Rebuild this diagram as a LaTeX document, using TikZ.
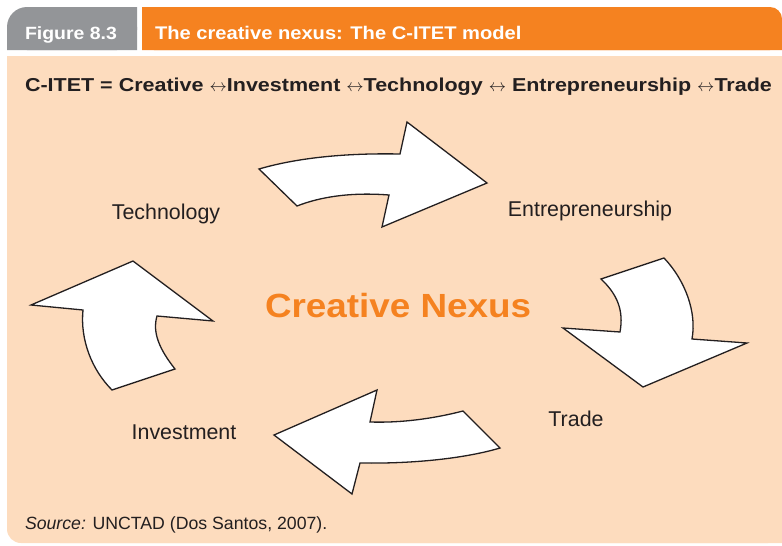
\documentclass[tikz,border=0pt]{standalone}
\usepackage{fontspec}
\setmainfont{Liberation Sans}
\newfontfamily\widefont[FakeStretch=1.1]{Liberation Sans}
\newfontfamily\formulafont[FakeStretch=1.15]{Liberation Sans}

\definecolor{figgray}{HTML}{939598}
\definecolor{figorange}{HTML}{F58220}
\definecolor{figpeach}{HTML}{FDDCBE}
\definecolor{figtext}{HTML}{231F20}

\newcommand{\lrarr}{$\leftrightarrow$}

\tikzset{
  tab text/.style={anchor=base west, outer sep=0, inner sep=0, text=white, font=\widefont\bfseries\fontsize{17.7}{20}\selectfont},
  cycle label/.style={anchor=base, outer sep=0, inner sep=0, text=figtext, font=\fontsize{21.4}{24}\selectfont},
  block arrow/.style={draw=figtext, fill=white, line width=1.3pt, line join=miter},
}

\begin{document}
\begin{tikzpicture}[x=1pt, y=-1pt]
      \useasboundingbox (0,0) rectangle (782,546);

      % header tabs and body
      \fill[figgray, rounded corners=20] (7,7) rectangle (137,50);
      \fill[figgray] (60,7) rectangle (137,50) (7,30) rectangle (137,50);
      \fill[figorange, rounded corners=12] (142,7) rectangle (782,50);
      \fill[figorange] (142,7) rectangle (720,50) (142,30) rectangle (782,50);
      \fill[figpeach, rounded corners=14] (7,56) rectangle (782,543);
      \fill[figpeach] (7,56) rectangle (782,100) (60,56) rectangle (782,543);

      \node[tab text] (fig-no) at (25,39.3) {Figure 8.3};
      \node[tab text, font=\widefont\bfseries\fontsize{18.3}{20}\selectfont] (fig-title) at (155,39.3) {The creative nexus: The C-ITET model};

      \node[anchor=base west, outer sep=0, inner sep=0, text=figtext, font=\formulafont\bfseries\fontsize{18.7}{22}\selectfont] (formula) at (25,91.7) {C-ITET = Creative \lrarr Investment \lrarr Technology \lrarr{} Entrepreneurship \lrarr Trade};

      % the four curved arrows
      \draw[block arrow] (259,169) .. controls (300,157) and (350,153) .. (400,154) -- (407,122) -- (487,183) -- (382,227) -- (389,195) .. controls (350,192) and (320,197) .. (297,206) -- cycle;
      \draw[block arrow] (664,258) .. controls (685,280) and (697,312) .. (692,339) -- (747,343) -- (643,387) -- (563,328) -- (620,332) .. controls (624,310) and (617,294) .. (601,279) -- cycle;
      \draw[block arrow] (500,448) .. controls (470,457) and (420,464) .. (360,463) -- (352,494) -- (274,435) -- (377,390) -- (370,422) .. controls (400,423) and (432,419) .. (463,411) -- cycle;
      \draw[block arrow] (175,369) .. controls (160,350) and (152,333) .. (157,316) -- (213,321) -- (133,261) -- (31,305) -- (83,310) .. controls (80,340) and (92,370) .. (112,390) -- cycle;

      \node[anchor=base west, outer sep=0, inner sep=0, text=figorange, font=\widefont\bfseries\fontsize{33.5}{40}\selectfont] (nexus) at (265,317.3) {Creative Nexus};

      \node[cycle label] (tech) at (166,219.3) {Technology};
      \node[cycle label] (entre) at (590,216) {Entrepreneurship};
      \node[cycle label] (trade) at (576,426.7) {Trade};
      \node[cycle label] (invest) at (184,439.3) {Investment};

      \node[anchor=base west, outer sep=0, inner sep=0, text=figtext, font=\fontsize{17.7}{20}\selectfont] (source) at (25,529) {\textit{Source:} UNCTAD (Dos Santos, 2007).};
    \end{tikzpicture}
\end{document}
